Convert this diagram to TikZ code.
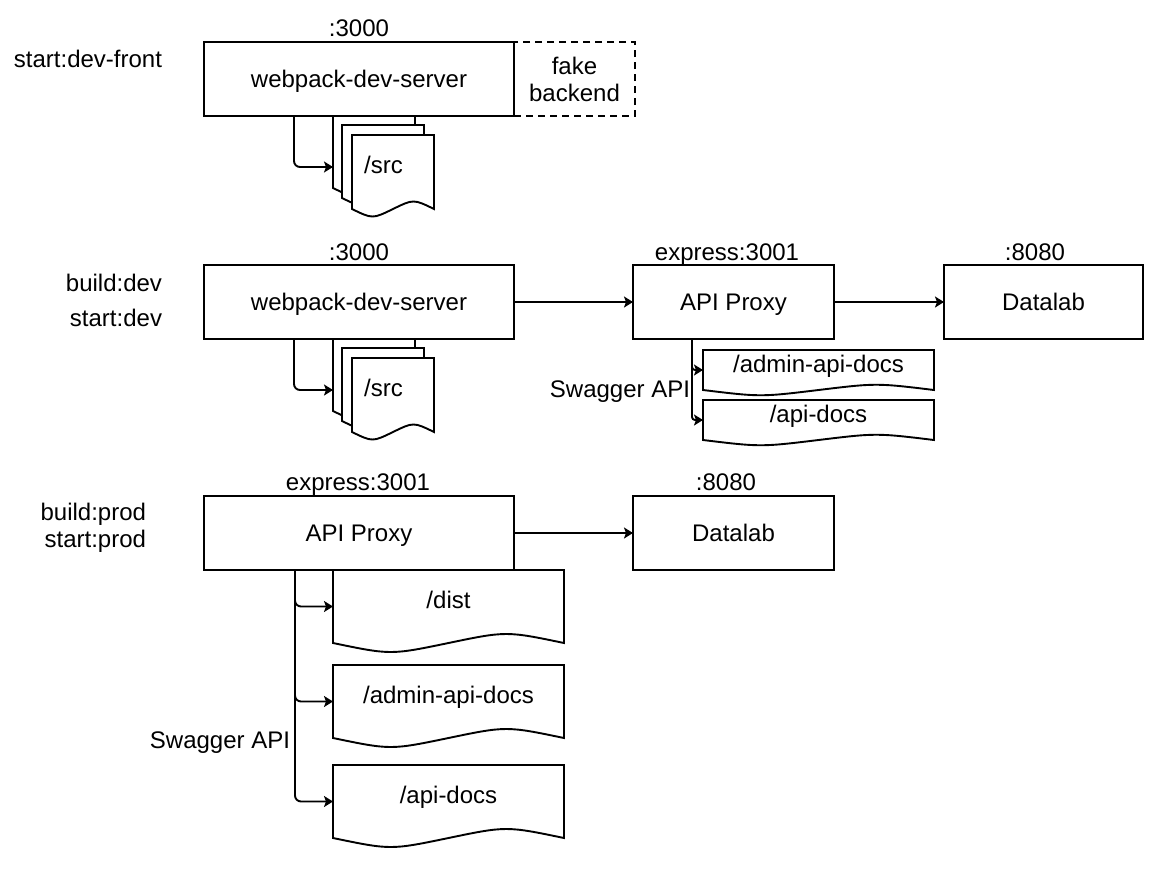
\documentclass[tikz,border=0pt]{standalone}
\usepackage{fontspec}
\setmainfont{Liberation Sans}
\usetikzlibrary{arrows.meta}
\newcommand\wavedoc[5]{%
  \draw[docline] (#1,#2) -- ({#1+#3},#2) -- ({#1+#3},{#2+#4})
    .. controls ({#1+0.75*#3},{#2+#4-#5}) .. ({#1+0.5*#3},{#2+#4})
    .. controls ({#1+0.25*#3},{#2+#4+#5}) .. (#1,{#2+#4}) -- cycle;}
\newcommand\docnode[7]{%
  \wavedoc{#2}{#3}{#4}{#5}{#6}
  \node[doctext, minimum width=#4pt, minimum height=#5pt] (#1) at ({#2+#4/2},{#3+#5/2}) {#7};}
\begin{document}
\begin{tikzpicture}[x=1pt,y=-1pt,
  every node/.style={font=\fontsize{24}{27}\selectfont, inner sep=0pt, outer sep=0pt},
  lw/.style={line width=1.9pt},
  box/.style={draw, lw, fill=white, minimum width=#1, minimum height=74pt, text height=17pt, text depth=1pt},
  fakebox/.style={draw, lw, dash pattern=on 7pt off 5pt, minimum width=121pt, minimum height=74pt, align=center},
  docline/.style={draw, lw, fill=white},
  doctext/.style={text height=17pt, text depth=13pt},
  srctext/.style={minimum width=101pt, minimum height=102pt, text height=17pt, text depth=5pt},
  lbl/.style={anchor=base},
  lblr/.style={anchor=base east},
  arr/.style={lw, -{Stealth[length=9pt,width=11pt,inset=2pt]}},
]
\useasboundingbox (0,0) rectangle (1165,868);

% ---------- section 1 ----------
\wavedoc{333}{116}{82}{72}{10}
\wavedoc{342}{125}{82}{73}{10}
\wavedoc{352}{135}{82}{74}{10}
\node[fakebox] (fake) at (574.5,79) {fake\\backend};
\node[box=310pt] (wds1) at (359,79) {webpack-dev-server};
\node[srctext] (src1) at (383.5,167) {/src};
\node[lbl] (p1) at (359,36) {:3000};
\node[lblr] (s1) at (162,67) {start:dev-front};
\draw[arr, rounded corners=6pt] ([xshift=90pt]wds1.south west) |- (src1.west);

% ---------- section 2 ----------
\wavedoc{333}{339}{82}{72}{10}
\wavedoc{342}{348}{82}{73}{10}
\wavedoc{352}{358}{82}{74}{10}
\node[box=310pt] (wds2) at (359,302) {webpack-dev-server};
\node[srctext] (src2) at (383.5,390) {/src};
\node[box=201pt] (api2) at (733.5,302) {API Proxy};
\node[box=199pt] (dl2) at (1043.5,302) {Datalab};
\node[lbl] (p2) at (359,260) {:3000};
\node[lbl] (e2) at (727,260) {express:3001};
\node[lbl] (d2) at (1035,260) {:8080};
\node[lblr] (b2) at (162,291) {build:dev};
\node[lblr] (s2) at (162,326) {start:dev};
\docnode{adm2}{703}{350}{231}{40}{7}{/admin-api-docs}
\docnode{apid2}{703}{400}{231}{40}{7}{/api-docs}
\node[lblr] (sw2) at (690,397) {Swagger API};
\draw[arr, rounded corners=6pt] ([xshift=90pt]wds2.south west) |- (src2.west);
\draw[arr] (wds2.east) -- (api2.west);
\draw[arr] (api2.east) -- (dl2.west);
\draw[arr, rounded corners=3pt] ([xshift=59pt]api2.south west) |- (adm2.west);
\draw[arr, rounded corners=3pt] ([xshift=59pt]api2.south west) |- (apid2.west);

% ---------- section 3 ----------
\node[box=310pt] (api3) at (359,533) {API Proxy};
\node[box=201pt] (dl3) at (733.5,533) {Datalab};
\node[lbl] (e3) at (358,490) {express:3001};
\node[lbl] (d3) at (726,490) {:8080};
\node[lblr] (b3) at (146,520) {build:prod};
\node[lblr] (s3) at (146,547) {start:prod};
\docnode{dist3}{333}{570}{231}{73}{12}{/dist}
\docnode{adm3}{333}{665}{231}{73}{12}{/admin-api-docs}
\docnode{apid3}{333}{765}{231}{73}{12}{/api-docs}
\node[lblr] (sw3) at (290,748) {Swagger API};
\draw[arr] (api3.east) -- (dl3.west);
\draw[arr, rounded corners=6pt] ([xshift=91pt]api3.south west) |- (dist3.west);
\draw[arr, rounded corners=6pt] ([xshift=91pt]api3.south west) |- (adm3.west);
\draw[arr, rounded corners=6pt] ([xshift=91pt]api3.south west) |- (apid3.west);
\end{tikzpicture}
\end{document}
